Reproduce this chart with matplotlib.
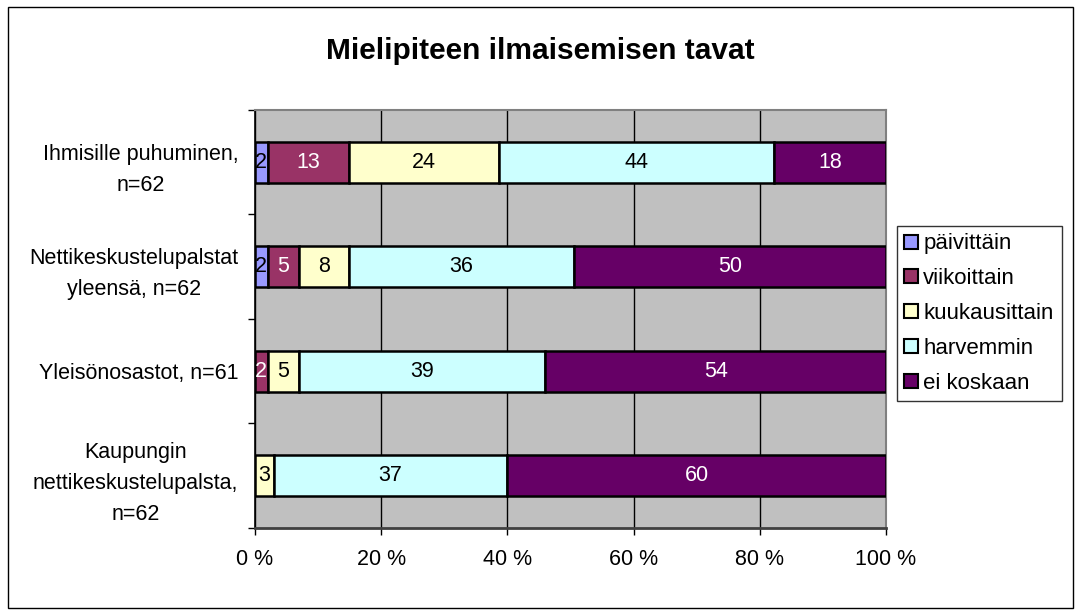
import numpy as np
import matplotlib.pyplot as plt
from matplotlib.patches import Rectangle

plt.rcParams['font.family'] = ['Liberation Sans', 'DejaVu Sans']

categories = ['Ihmisille puhuminen,\nn=62',
              'Nettikeskustelupalstat\nyleensä, n=62',
              'Yleisönosastot, n=61',
              'Kaupungin\nnettikeskustelupalsta,\nn=62']
series = ['päivittäin', 'viikoittain', 'kuukausittain', 'harvemmin', 'ei koskaan']
paivittain = [2, 2, 0, 0]
viikoittain = [13, 5, 2, 0]
kuukausittain = [24, 8, 5, 3]
harvemmin = [44, 36, 39, 37]
ei_koskaan = [18, 50, 54, 60]

colors = ['#9999FF', '#993366', '#FFFFCC', '#CCFFFF', '#660066']
text_colors = ['black', 'white', 'black', 'black', 'white']

values = np.array([paivittain, viikoittain, kuukausittain, harvemmin, ei_koskaan], dtype=float)
shares = values / values.sum(axis=0) * 100

fs = 15.5
fig = plt.figure(figsize=(10.81, 6.15), dpi=100)
fig.patches.append(Rectangle((0.007, 0.012), 0.986, 0.976, transform=fig.transFigure,
                             fill=False, edgecolor='black', linewidth=1))
ax = fig.add_axes([0.2359, 0.1415, 0.5837, 0.6797])
ax.set_facecolor('#C0C0C0')

y = np.arange(len(categories))
left = np.zeros(len(categories))
for i, name in enumerate(series):
    bars = ax.barh(y, shares[i], left=left, height=0.39, color=colors[i],
                   edgecolor='black', linewidth=1.8, label=name, zorder=3)
    for j, b in enumerate(bars):
        if values[i, j] > 0:
            ax.text(left[j] + shares[i, j] / 2, y[j], f'{int(values[i, j])}',
                    ha='center', va='center', fontsize=fs, color=text_colors[i], zorder=4)
    left += shares[i]

ax.set_xlim(0, 100)
ax.set_ylim(3.5, -0.5)
ax.set_xticks([0, 20, 40, 60, 80, 100])
ax.set_xticklabels(['0 %', '20 %', '40 %', '60 %', '80 %', '100 %'], fontsize=fs)
ax.set_yticks(y)
ax.set_yticklabels(categories, fontsize=fs, multialignment='center', linespacing=1.62)
ax.set_yticks(np.arange(-0.5, 4, 1), minor=True)
ax.tick_params(axis='y', which='major', length=0, pad=12)
ax.tick_params(axis='y', which='minor', length=5, width=1, direction='out')
ax.tick_params(axis='x', length=5, width=1, direction='out', pad=10)
ax.xaxis.grid(True, color='black', linewidth=1)
ax.set_axisbelow(True)
for s in ['top', 'right']:
    ax.spines[s].set_color('#808080')
    ax.spines[s].set_linewidth(1.5)
ax.spines['left'].set_color('black')
ax.spines['left'].set_linewidth(1.2)
ax.spines['bottom'].set_color('#404040')
ax.spines['bottom'].set_linewidth(2)

fig.text(0.5, 0.917, 'Mielipiteen ilmaisemisen tavat', ha='center', va='center',
         fontsize=21.5, fontweight='bold')

leg = fig.legend(loc='center left', bbox_to_anchor=(0.8295, 0.4902), fontsize=16,
                 frameon=True, fancybox=False, handlelength=0.6, handleheight=0.6,
                 handletextpad=0.25, labelspacing=0.62, borderpad=0.35, borderaxespad=0)
leg.get_frame().set_edgecolor('black')
leg.get_frame().set_linewidth(1)
for h in leg.legend_handles:
    h.set_linewidth(1.5)

fig.savefig('out.png', dpi=100)
